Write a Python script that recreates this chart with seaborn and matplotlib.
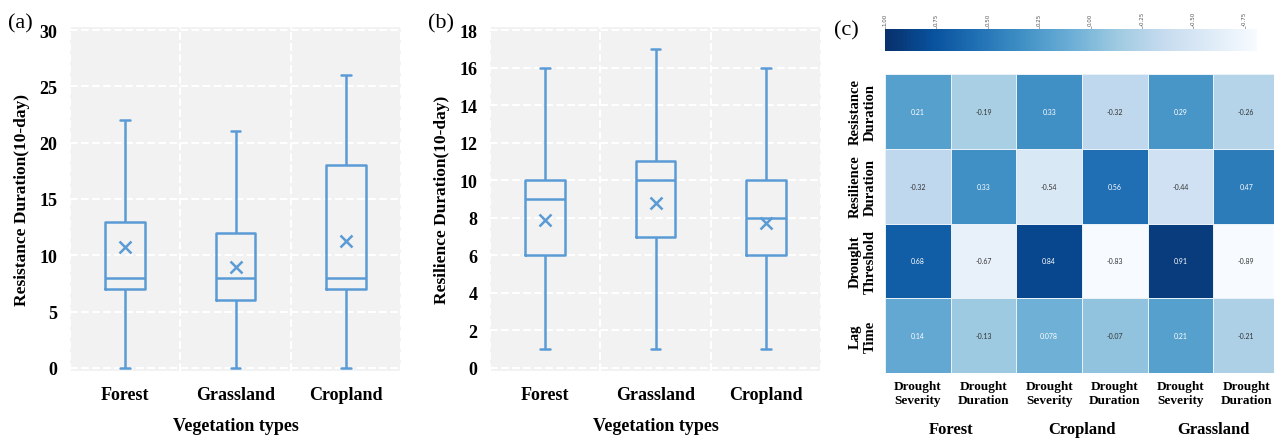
import numpy as np
import pandas as pd
import matplotlib
matplotlib.use("Agg")
import matplotlib.pyplot as plt
import seaborn as sns

# ---------------- data ----------------
categories = ["Forest", "Grassland", "Cropland"]
# five-number summaries: min, q1, median, q3, max
resist_forest = [0, 7, 8, 13, 22]
resist_grass = [0, 6, 8, 12, 21]
resist_crop = [0, 7, 8, 18, 26]
resist_means = [10.7, 9.0, 11.3]

resil_forest = [1, 6, 9, 10, 16]
resil_grass = [1, 7, 10, 11, 17]
resil_crop = [1, 6, 8, 10, 16]
resil_means = [7.9, 8.8, 7.7]

heat_rows = ["Resistance\nDuration", "Resilience\nDuration", "Drought\nThreshold", "Lag\nTime"]
heat_cols = ["Drought\nSeverity", "Drought\nDuration", "Drought\nSeverity",
             "Drought\nDuration", "Drought\nSeverity", "Drought\nDuration"]
heat_groups = ["Forest", "Cropland", "Grassland"]
row_resistance = [0.21, -0.19, 0.33, -0.32, 0.29, -0.26]
row_resilience = [-0.32, 0.33, -0.54, 0.56, -0.44, 0.47]
row_threshold = [0.68, -0.67, 0.84, -0.83, 0.91, -0.89]
row_lag = [0.14, -0.13, 0.078, -0.07, 0.21, -0.21]
cbar_ticks = [1.00, 0.75, 0.50, 0.25, 0.00, -0.25, -0.50, -0.75]

# ---------------- style ----------------
sns.set_style("darkgrid", {"axes.facecolor": "#f2f2f2", "grid.color": "white",
                           "grid.linestyle": "--"})
plt.rcParams["font.family"] = ["Liberation Serif", "DejaVu Serif"]
plt.rcParams["text.color"] = "black"
plt.rcParams["axes.labelcolor"] = "black"
plt.rcParams["xtick.color"] = "black"
plt.rcParams["ytick.color"] = "black"

W, H = 1274, 439
fig = plt.figure(figsize=(W / 100, H / 100), dpi=100)


def px_axes(x0, y0, x1, y1):
    return fig.add_axes([x0 / W, 1 - y1 / H, (x1 - x0) / W, (y1 - y0) / H])


blue = "#5b9bd5"


def box_panel(ax, series, means, ylim, yticks, ylabel):
    df = pd.DataFrame({
        "cat": np.repeat(categories, 5),
        "val": np.concatenate(series),
    })
    sns.boxplot(data=df, x="cat", y="val", order=categories, whis=(0, 100),
                width=0.36, fill=False, color=blue, linewidth=1.8,
                capwidths=0.09, ax=ax)
    sns.pointplot(x=categories, y=means, order=categories, linestyle="none",
                  marker="x", markersize=9, markeredgewidth=1.8, color=blue,
                  errorbar=None, ax=ax)
    ax.set_xlim(-0.5, 2.5)
    ax.set_ylim(*ylim)
    ax.set_yticks(yticks)
    ax.set_xticks([0, 1, 2])
    ax.set_xticklabels(categories)
    ax.set_xticks([-0.5, 0.5, 1.5, 2.5], minor=True)
    ax.grid(False, which="major", axis="x")
    ax.grid(True, which="minor", axis="x", color="white", linestyle="--", linewidth=1.5)
    ax.grid(True, which="major", axis="y", color="white", linestyle="--", linewidth=1.5)
    ax.tick_params(axis="both", which="both", length=0)
    ax.tick_params(axis="x", pad=11)
    ax.tick_params(axis="y", pad=9)
    for lab in ax.get_xticklabels():
        lab.set_fontweight("bold"); lab.set_fontsize(13)
    for lab in ax.get_yticklabels():
        lab.set_fontweight("bold"); lab.set_fontsize(13)
    ax.set_xlabel("Vegetation types", fontsize=13, fontweight="bold", labelpad=10)
    ax.set_ylabel(ylabel, fontsize=12.5, fontweight="bold", labelpad=7)
    for s in ax.spines.values():
        s.set_visible(False)


ax_a = px_axes(70, 28, 401, 372)
box_panel(ax_a, [resist_forest, resist_grass, resist_crop], resist_means,
          (-0.27, 30.27), range(0, 31, 5), "Resistance Duration(10-day)")
ax_b = px_axes(490, 28, 821, 372)
box_panel(ax_b, [resil_forest, resil_grass, resil_crop], resil_means,
          (-0.16, 18.16), range(0, 19, 2), "Resilience Duration(10-day)")

fig.text(8 / W, 1 - 24 / H, "(a)", fontsize=16, va="center", ha="left")
fig.text(428 / W, 1 - 24 / H, "(b)", fontsize=16, va="center", ha="left")
fig.text(834 / W, 1 - 31 / H, "(c)", fontsize=16, va="center", ha="left")

# ---------------- heatmap ----------------
hdf = pd.DataFrame([row_resistance, row_resilience, row_threshold, row_lag],
                   index=heat_rows, columns=range(6))
hax = px_axes(885, 75, 1279, 374)
cax = px_axes(885, 30, 1257, 52)
sns.heatmap(hdf, ax=hax, cmap="Blues", vmin=-0.81, vmax=1.0, annot=True, fmt=".2g",
            annot_kws={"size": 5, "family": "Lato"}, cbar_ax=cax,
            cbar_kws={"orientation": "horizontal"}, linewidths=0.6, linecolor="#e8f0f8")
vals = hdf.values.flatten()
for t, v in zip(hax.texts, vals):
    t.set_color("white" if v > 0 else "#333333")
hax.set_xticks(np.arange(6) + 0.5)
hax.set_xticklabels(heat_cols, fontsize=9.5, fontweight="bold", rotation=0)
hax.set_yticks(np.arange(4) + 0.5)
hax.set_yticklabels(heat_rows, fontsize=10.5, fontweight="bold", rotation=90, va="center",
                    ha="center")
hax.tick_params(axis="both", length=2, color="#999999", width=0.6)
hax.tick_params(axis="y", pad=14)
hax.tick_params(axis="x", pad=3)
hax.set_xlabel(""); hax.set_ylabel("")
for i, g in enumerate(heat_groups):
    hax.text(2 * i + 1, 4.75, g, ha="center", va="center", fontsize=12,
             fontweight="bold", transform=hax.transData, clip_on=False)

cax.invert_xaxis()
cax.xaxis.set_ticks_position("top")
cax.set_xticks(cbar_ticks)
cax.set_xticklabels([f"{t:.2f}" for t in cbar_ticks], rotation=90, fontsize=4,
                    color="#555555", family="DejaVu Sans")
cax.tick_params(axis="x", length=2, width=0.5, color="#888888", pad=1)
for s in cax.spines.values():
    s.set_visible(False)

fig.savefig("out.png", dpi=100)
